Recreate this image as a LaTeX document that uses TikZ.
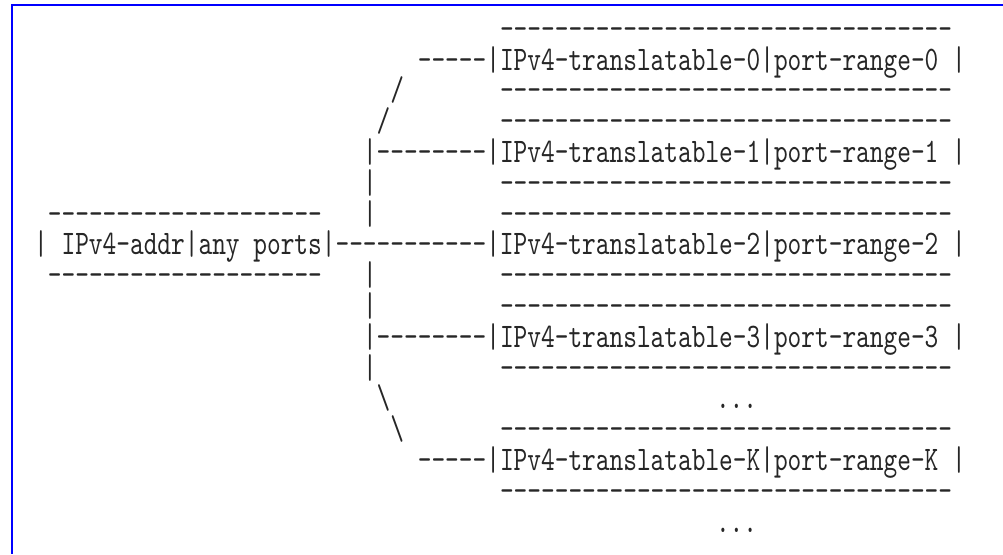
\documentclass[tikz,border=0pt]{standalone}
\usepackage{fontspec}
\newfontfamily\asc{lmmono10-regular.otf}[FakeStretch=0.7586,Ligatures=TeXOff]
\newcommand\dten{----------}
\newcommand\DR{\dten\dten\dten---}
\newcommand\DL{\dten\dten}
\newcommand\cx[1]{34.2+13.7*#1}
\newcommand\ry[1]{39.2+30.8*#1}
\definecolor{frameblue}{RGB}{0,0,255}
\tikzset{
  ascii/.style={anchor=base west, inner sep=0pt, outer sep=0pt,
    text height=21pt, text depth=6pt,
    font=\asc\fontsize{34.4}{36}\selectfont, text=black!85},
  framel/.style={draw=frameblue, line width=2pt}
}
\begin{document}
\begin{tikzpicture}[x=1pt,y=-1pt]
\useasboundingbox (0,0) rectangle (1003,554);
% frame
\coordinate (ftl) at (11,5);
\coordinate (ftr) at (1003,5);
\coordinate (fbl) at (12,554);
\draw[framel] (ftl) -- (ftr);
\draw[framel] (12,4) -- (fbl);
% row 0
\node[ascii] (dr0) at ({\cx{34}},{\ry{0}}) {\DR};
% row 1
\node[ascii] (c1) at ({\cx{28}},{\ry{1}}) {-----|IPv4-translatable-0|port-range-0 |};
% row 2
\node[ascii] (s2) at ({\cx{26}},{\ry{2}}) {/};
\node[ascii] (dr2) at ({\cx{34}},{\ry{2}}) {\DR};
% row 3
\node[ascii] (s3) at ({\cx{25}},{\ry{3}}) {/};
\node[ascii] (dr3) at ({\cx{34}},{\ry{3}}) {\DR};
% row 4
\node[ascii] (c4) at ({\cx{24}},{\ry{4}}) {|--------|IPv4-translatable-1|port-range-1 |};
% row 5
\node[ascii] (v5) at ({\cx{24}},{\ry{5}}) {|};
\node[ascii] (dr5) at ({\cx{34}},{\ry{5}}) {\DR};
% row 6
\node[ascii] (lt) at ({\cx{1}},{\ry{6}}) {\DL};
\node[ascii] (v6) at ({\cx{24}},{\ry{6}}) {|};
\node[ascii] (dr6) at ({\cx{34}},{\ry{6}}) {\DR};
% row 7
\node[ascii] (c7) at ({\cx{0}},{\ry{7}}) {| IPv4-addr|any ports|\dten-|IPv4-translatable-2|port-range-2 |};
% row 8
\node[ascii] (lb) at ({\cx{1}},{\ry{8}}) {\DL};
\node[ascii] (v8) at ({\cx{24}},{\ry{8}}) {|};
\node[ascii] (dr8) at ({\cx{34}},{\ry{8}}) {\DR};
% row 9
\node[ascii] (v9) at ({\cx{24}},{\ry{9}}) {|};
\node[ascii] (dr9) at ({\cx{34}},{\ry{9}}) {\DR};
% row 10
\node[ascii] (c10) at ({\cx{24}},{\ry{10}}) {|--------|IPv4-translatable-3|port-range-3 |};
% row 11
\node[ascii] (v11) at ({\cx{24}},{\ry{11}}) {|};
\node[ascii] (dr11) at ({\cx{34}},{\ry{11}}) {\DR};
% row 12
\node[ascii] (b12) at ({\cx{25}},{\ry{12}}) {\symbol{92}};
\node[ascii] (dots12) at (716,{\ry{12}}) {...};
% row 13
\node[ascii] (b13) at ({\cx{26}},{\ry{13}}) {\symbol{92}};
\node[ascii] (dr13) at ({\cx{34}},{\ry{13}}) {\DR};
% row 14
\node[ascii] (c14) at ({\cx{28}},{\ry{14}}) {-----|IPv4-translatable-K|port-range-K |};
% row 15
\node[ascii] (dr15) at ({\cx{34}},{\ry{15}}) {\DR};
% row 16
\node[ascii] (dots16) at (716,{\ry{16}}) {...};
\end{tikzpicture}
\end{document}
